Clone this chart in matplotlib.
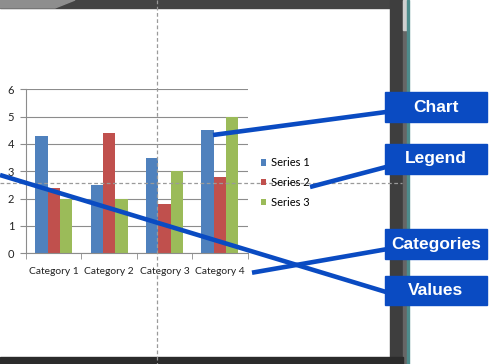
import numpy as np
import matplotlib
matplotlib.use("Agg")
import matplotlib.pyplot as plt
from matplotlib.patches import Rectangle, Polygon

# chart data
categories = ["Category 1", "Category 2", "Category 3", "Category 4"]
series_names = ["Series 1", "Series 2", "Series 3"]
series1 = [4.3, 2.5, 3.5, 4.5]
series2 = [2.4, 4.4, 1.8, 2.8]
series3 = [2.0, 2.0, 3.0, 5.0]
colors = ["#4F81BD", "#C0504D", "#9BBB59"]
yticks = [0, 1, 2, 3, 4, 5, 6]

# callout labels
callouts = ["Chart", "Legend", "Categories", "Values"]

W, H = 499, 364
fig = plt.figure(figsize=(W / 100, H / 100), dpi=100)
fig.patch.set_facecolor("white")
font = "Lato"

# window frame (pixel coordinates)
bg = fig.add_axes([0, 0, 1, 1], zorder=0)
bg.set_xlim(0, W)
bg.set_ylim(H, 0)
bg.axis("off")
bg.add_patch(Rectangle((0, 0), 403, 8, color="#444444"))
bg.add_patch(Polygon([(0, 0), (75, 0), (55, 8), (0, 8)], color="#8e8e8e"))
bg.add_patch(Rectangle((390, 0), 13, H, color="#3e3e3e"))
bg.add_patch(Rectangle((403, 0), 4, H, color="#666666"))
bg.add_patch(Rectangle((403, 0), 4, 30, color="#cfcfcf"))
bg.add_patch(Rectangle((407, 0), 2, H, color="#4d8c8c"))
bg.add_patch(Rectangle((0, 357), 403, 7, color="#2b2b2b"))

# chart
ax = fig.add_axes([26 / W, 1 - 253.3 / H, (247.5 - 26) / W, (253.3 - 89.3) / H], zorder=1)
x = np.arange(len(categories))
bw = 0.222
for i, (vals, name) in enumerate(zip([series1, series2, series3], series_names)):
    ax.bar(x + (i - 1) * bw, vals, bw, color=colors[i], label=name, zorder=2)

ax.set_xlim(-0.5, len(categories) - 0.5)
ax.set_ylim(0, 6)
ax.set_yticks(yticks)
ax.set_yticklabels([str(v) for v in yticks], fontsize=8, family=font, color="#222222")
ax.set_xticks(x)
ax.set_xticklabels(categories, fontsize=7.4, family=font, color="#222222")
ax.set_xticks(np.arange(len(categories) + 1) - 0.5, minor=True)
ax.tick_params(axis="x", which="major", length=0, pad=10)
ax.tick_params(axis="x", which="minor", length=4, color="#8c8c8c", direction="out")
ax.tick_params(axis="y", length=4, color="#8c8c8c", pad=4.5)
ax.yaxis.grid(True, color="#8c8c8c", linewidth=0.8, zorder=0)
ax.set_axisbelow(True)
for side in ["top", "right"]:
    ax.spines[side].set_visible(False)
for side in ["left", "bottom"]:
    ax.spines[side].set_color("#8c8c8c")
    ax.spines[side].set_linewidth(0.8)

leg = fig.legend(loc="center left", bbox_to_anchor=(260.5 / W, 1 - 182.7 / H), frameon=False,
                 prop={"family": font, "size": 8}, handlelength=0.5, handleheight=0.5,
                 handletextpad=0.45, labelspacing=0.8, borderpad=0, borderaxespad=0)

# overlay: guides and callouts
ov = fig.add_axes([0, 0, 1, 1], zorder=3)
ov.set_xlim(0, W)
ov.set_ylim(H, 0)
ov.axis("off")
ov.patch.set_alpha(0)
ov.plot([157, 157], [0, H], color="#9a9a9a", lw=0.9, ls=(0, (3, 2)))
ov.plot([0, 402], [182.7, 182.7], color="#9a9a9a", lw=0.9, ls=(0, (3, 2)))

blue = "#0A4BC2"
line_ends = [((213, 135), (386, 112)),
             ((310, 187), (386, 167)),
             ((252, 272.7), (386, 249.3)),
             ((0, 175), (386, 292))]
box_tops = [92.3, 144, 229.3, 275.7]
for label, (p0, p1), top in zip(callouts, line_ends, box_tops):
    ov.plot([p0[0], p1[0]], [p0[1], p1[1]], color=blue, lw=3.3, solid_capstyle="butt")
    ov.add_patch(Rectangle((385, top), 101.7, 29.5, color=blue))
    ov.text(435.8, top + 15, label, color="white", fontsize=12.5, fontweight="bold",
            family="Liberation Sans", ha="center", va="center")

fig.savefig("out.png", dpi=100)
